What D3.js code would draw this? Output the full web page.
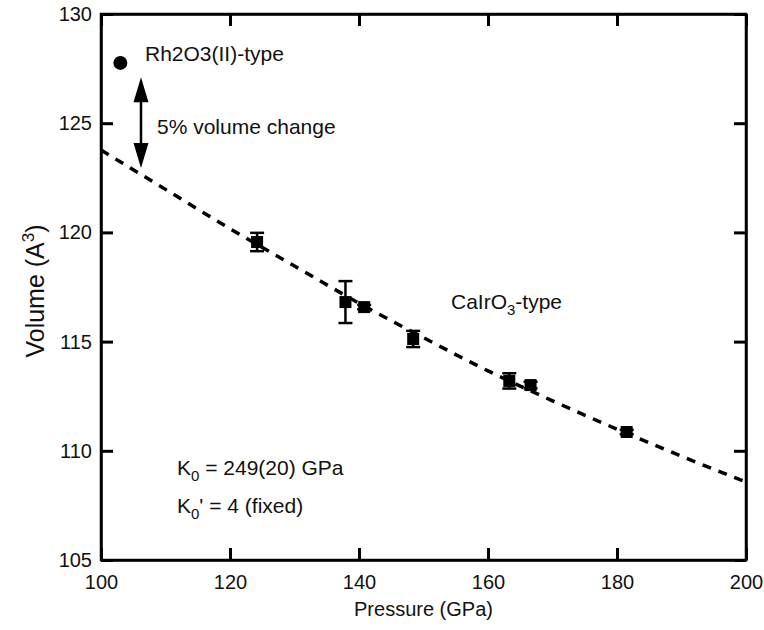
<!DOCTYPE html>
<html>
<head>
<meta charset="utf-8">
<script src="https://cdn.jsdelivr.net/npm/d3@7"></script>
<style>
  body { margin: 0; background: #fff; }
  svg text { font-family: "Liberation Sans", Arial, sans-serif; fill: #111; }
  .axis path { stroke: #000; stroke-width: 2.5; }
  .axis line { stroke: #000; stroke-width: 3; }
  .axis text { font-size: 20px; }
</style>
</head>
<body>
<svg id="chart" width="764" height="630"></svg>
<script>
// measured points (CaIrO3-type)
const pressure = [124.2, 137.9, 140.8, 148.4, 163.3, 166.6, 181.5];
const volume = [119.56, 116.81, 116.58, 115.12, 113.2, 113.01, 110.86];
const volErr = [0.42, 0.96, 0.1, 0.37, 0.35, 0.15, 0.1];

// Rh2O3(II)-type point
const rhPressure = [103.0];
const rhVolume = [127.76];

// fitted EOS curve
const fitPressure = [100, 110, 120, 130, 140, 150, 160, 170, 180, 190, 200];
const fitVolume = [123.77, 121.97, 120.17, 118.46, 116.76, 115.18, 113.66, 112.29, 110.99, 109.75, 108.57];

const xTicks = [100, 120, 140, 160, 180, 200];
const yTicks = [105, 110, 115, 120, 125, 130];

let margin = { top: 14, right: 18, bottom: 70, left: 101 },
  width = 764 - margin.left - margin.right,
  height = 630 - margin.top - margin.bottom;

let svg = d3.select("#chart");
let chart = svg.append("g")
  .attr("transform", "translate(" + margin.left + "," + margin.top + ")");

let x = d3.scaleLinear().domain([100, 200]).range([0, width]);
let y = d3.scaleLinear().domain([105, 130]).range([height, 0]);

// axes, ticks pointing inward
chart.append("g")
  .attr("class", "axis")
  .attr("transform", "translate(0," + height + ")")
  .call(d3.axisBottom(x).tickValues(xTicks).tickSize(-12).tickPadding(15).tickSizeOuter(0));
chart.append("g")
  .attr("class", "axis")
  .call(d3.axisLeft(y).tickValues(yTicks).tickSize(-12).tickPadding(9).tickSizeOuter(0));
chart.append("g")
  .attr("class", "axis")
  .call(d3.axisTop(x).tickValues(xTicks).tickSize(-12).tickFormat("").tickSizeOuter(0));
chart.append("g")
  .attr("class", "axis")
  .attr("transform", "translate(" + width + ",0)")
  .call(d3.axisRight(y).tickValues(yTicks).tickSize(-12).tickFormat("").tickSizeOuter(0));

// frame
chart.append("rect")
  .attr("width", width).attr("height", height)
  .attr("fill", "none").attr("stroke", "#000").attr("stroke-width", 2.5);

// axis titles
svg.append("text")
  .attr("x", margin.left + width / 2).attr("y", 616)
  .attr("text-anchor", "middle").style("font-size", "20px")
  .text("Pressure (GPa)");

let yt = svg.append("text")
  .attr("transform", "translate(44," + (margin.top + height / 2 + 4) + ") rotate(-90)")
  .attr("text-anchor", "middle").style("font-size", "25px");
yt.append("tspan").text("Volume (A");
yt.append("tspan").attr("dy", -10).style("font-size", "17px").text("3");
yt.append("tspan").attr("dy", 10).text(")");

// dashed fit line
let fit = fitPressure.map((p, i) => [p, fitVolume[i]]);
chart.append("path")
  .datum(fit)
  .attr("fill", "none")
  .attr("stroke", "#000")
  .attr("stroke-width", 3.5)
  .attr("stroke-dasharray", "9,8")
  .attr("d", d3.line().x(d => x(d[0])).y(d => y(d[1])).curve(d3.curveMonotoneX));

// error bars
let pts = pressure.map((p, i) => ({ p: p, v: volume[i], e: volErr[i] }));
let eb = chart.append("g").attr("stroke", "#000").attr("stroke-width", 2.5);
pts.forEach(function (d) {
  eb.append("line").attr("x1", x(d.p)).attr("x2", x(d.p))
    .attr("y1", y(d.v - d.e)).attr("y2", y(d.v + d.e));
  [d.v - d.e, d.v + d.e].forEach(function (v) {
    eb.append("line").attr("x1", x(d.p) - 7).attr("x2", x(d.p) + 7)
      .attr("y1", y(v)).attr("y2", y(v));
  });
});

// square markers
chart.append("g").selectAll("rect")
  .data(pts)
  .enter()
  .append("rect")
  .attr("x", d => x(d.p) - 6)
  .attr("y", d => y(d.v) - 6)
  .attr("width", 12)
  .attr("height", 12)
  .attr("fill", "#000");

// Rh2O3(II)-type dot
chart.append("g").selectAll("circle")
  .data(rhPressure.map((p, i) => [p, rhVolume[i]]))
  .enter()
  .append("circle")
  .attr("cx", d => x(d[0]))
  .attr("cy", d => y(d[1]))
  .attr("r", 7)
  .attr("fill", "#000");

// double arrow for volume change
let arrowP = 106.2, arrowTop = 127.1, arrowBottom = 122.95;
let ax = x(arrowP), ay1 = y(arrowTop), ay2 = y(arrowBottom);
chart.append("line")
  .attr("x1", ax).attr("x2", ax)
  .attr("y1", ay1 + 20).attr("y2", ay2 - 20)
  .attr("stroke", "#000").attr("stroke-width", 2.5);
chart.append("path")
  .attr("d", `M${ax},${ay1} L${ax - 7.5},${ay1 + 25} L${ax + 7.5},${ay1 + 25} Z`)
  .attr("fill", "#000");
chart.append("path")
  .attr("d", `M${ax},${ay2} L${ax - 7.5},${ay2 - 25} L${ax + 7.5},${ay2 - 25} Z`)
  .attr("fill", "#000");

// annotations
function label(px, py, txt) {
  return svg.append("text").attr("x", px).attr("y", py).style("font-size", "21px").text(txt);
}
label(145, 61, "Rh2O3(II)-type");
label(157, 134, "5% volume change");

let ca = label(451, 309, "CaIrO");
ca.append("tspan").attr("dy", 6).style("font-size", "15px").text("3");
ca.append("tspan").attr("dy", -6).text("-type");

let k0 = label(177, 475, "K");
k0.append("tspan").attr("dy", 6).style("font-size", "15px").text("0");
k0.append("tspan").attr("dy", -6).text(" = 249(20) GPa");

let k1 = label(177, 513, "K");
k1.append("tspan").attr("dy", 6).style("font-size", "15px").text("0");
k1.append("tspan").attr("dy", -6).text("' = 4 (fixed)");
</script>
</body>
</html>
